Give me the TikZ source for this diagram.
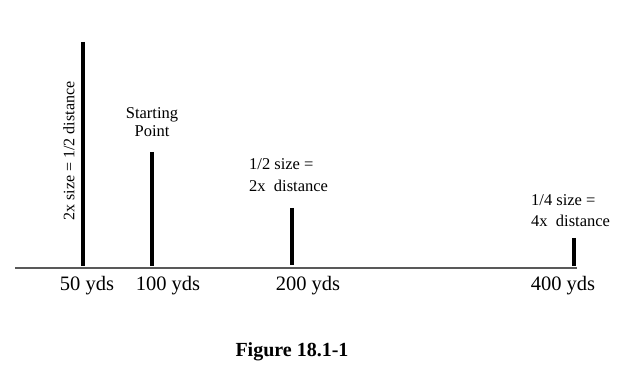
\documentclass[tikz,border=0pt]{standalone}
\usepackage{fontspec}
\setmainfont{Liberation Serif}
\begin{document}
\begin{tikzpicture}[x=1pt,y=-1pt,
  bar/.style={line width=3.4pt,black},
  axis/.style={line width=1.1pt,black!65},
  small/.style={font=\fontsize{16.5}{19}\selectfont,inner sep=0pt},
  rsmall/.style={font=\fontsize{16}{19}\selectfont,inner sep=0pt},
  big/.style={font=\fontsize{20.5}{23}\selectfont,inner sep=0pt},
  figcap/.style={font=\fontsize{20}{23}\selectfont\bfseries,inner sep=0pt}]
\useasboundingbox (0,0) rectangle (625,390);
% axis
\coordinate (axL) at (15,268);
\coordinate (axR) at (577,268);
\draw[axis] (axL) -- (axR);
% bars
\coordinate (b1t) at (83,42);   \coordinate (b1b) at (83,266);
\coordinate (b2t) at (152,152); \coordinate (b2b) at (152,266);
\coordinate (b3t) at (292,208); \coordinate (b3b) at (292,265);
\coordinate (b4t) at (574,238); \coordinate (b4b) at (574,266);
\draw[bar] (b1t) -- (b1b);
\draw[bar] (b2t) -- (b2b);
\draw[bar] (b3t) -- (b3b);
\draw[bar] (b4t) -- (b4b);
% texts
\node[rsmall,rotate=90] (rot) at (69,151) {2x size = 1/2 distance};
\node[small,align=center] (start) at (152,122) {Starting\\[-1pt]Point};
\node[small,anchor=west] (h1) at (249,164) {1/2 size =};
\node[small,anchor=west] (h2) at (249,186) {2x\ \ distance};
\node[small,anchor=west] (q1) at (531,200) {1/4 size =};
\node[small,anchor=west] (q2) at (531,221) {4x\ \ distance};
\node[big] (l50) at (87,286) {50 yds};
\node[big] (l100) at (168,286) {100 yds};
\node[big] (l200) at (308,286) {200 yds};
\node[big] (l400) at (563,286) {400 yds};
\node[figcap] (fig) at (292,352) {Figure 18.1-1};
\end{tikzpicture}
\end{document}
